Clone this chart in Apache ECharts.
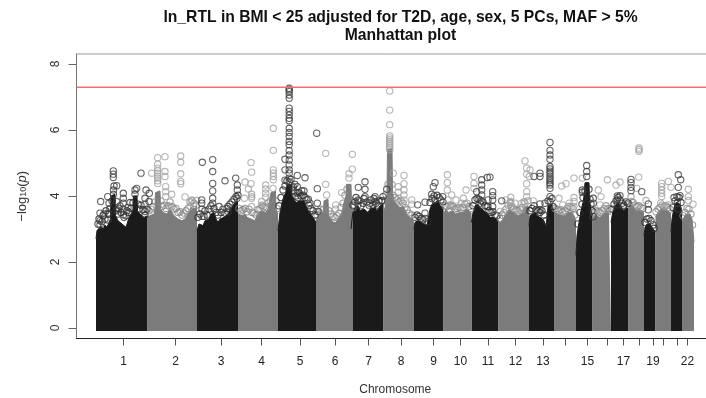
<!DOCTYPE html>
<html>
<head>
<meta charset="utf-8">
<script src="https://cdn.jsdelivr.net/npm/echarts@6/dist/echarts.min.js"></script>
<style>html,body{margin:0;padding:0;background:#fff}</style>
</head>
<body>
<div id="main" style="width:706px;height:398px;"></div>
<script type="text/javascript">
var chromTicks = [123.5,175.5,221,261.5,300,335,368.5,401,433.5,460.5,488,515.5,543,565.5,587.5,607.5,623.5,639.5,653,663.5,677,687.5];
var chromLabels = ['1','2','3','4','5','6','7','8','9','10','11','12','13','','15','','17','','19','','','22'];
var yTicks = [0,2,4,6,8];
var genomeWide = 7.29;

// top of the solid mass, odd and even chromosomes, '-' breaks between chromosomes
var skylineDark = [
	[96,2.7],[97,2.95],[99,3.0],[101,3.08],[103,2.98],[105,3.12],[107,3.05],[109,3.2],[110.5,3.3],[111,4.0],[115,4.05],[115.5,3.4],[118,3.25],[120,3.3],[122,3.15],[124,3.2],[126,3.05],[128,3.25],[130,3.4],[132,3.5],[133,3.6],[133.5,4.0],[137,4.0],[137.5,3.55],[140,3.45],[142,3.5],[144,3.35],[147.5,3.4],[147.5,'-'],
	[197,2.95],[199,3.15],[201,3.2],[203,3.1],[205,3.25],[207,3.2],[209,3.3],[211,3.45],[214,3.5],[216,3.3],[218,3.2],[220,3.3],[222,3.25],[224,3.35],[226,3.3],[228,3.45],[230,3.55],[232,3.6],[234,3.75],[236,3.8],[238,3.85],[238,'-'],
	[278,2.95],[280,3.5],[282,3.8],[284,4.0],[286,4.1],[287,4.35],[291.5,4.35],[292,4.0],[294,3.95],[296,3.8],[298,3.75],[300,3.85],[302,3.8],[304,3.85],[306,3.7],[308,3.55],[310,3.5],[312,3.4],[314,3.35],[316,3.2],[316,'-'],
	[351,3.0],[353,3.55],[355,3.65],[358,3.7],[360,3.55],[362,3.5],[364,3.6],[366,3.65],[368,3.5],[370,3.6],[372,3.55],[375,3.65],[377,3.55],[380,3.7],[383.5,3.75],[383.5,'-'],
	[414,3.0],[415,3.2],[418,3.25],[421,3.2],[424,3.15],[427,3.1],[429,3.05],[430,3.6],[432,3.75],[435,3.8],[438,3.85],[440,3.7],[443.5,3.65],[443.5,'-'],
	[471.5,3.2],[473,3.5],[475,3.7],[478,3.75],[480,3.65],[482,3.7],[484,3.55],[486,3.5],[488,3.45],[490,3.35],[492,3.3],[494,3.35],[498.5,3.25],[498.5,'-'],
	[529,3.1],[530,3.4],[532,3.45],[535,3.5],[537,3.4],[540,3.35],[542,3.4],[544,3.25],[546,3.05],[547.5,3.5],[548,3.7],[552,3.75],[554,3.5],[554,'-'],
	[576,2.2],[577,2.8],[579,3.2],[581,3.55],[583,3.8],[584,4.0],[585,4.4],[589,4.4],[589.5,3.85],[591,3.6],[592.5,3.4],[592.5,'-'],
	[611,3.2],[613,3.55],[615,3.7],[618,3.8],[620,3.7],[622,3.65],[624,3.55],[626,3.65],[628.5,3.6],[628.5,'-'],
	[644,2.8],[645,3.05],[647,3.15],[650,3.15],[652,3.05],[655.5,2.9],[655.5,'-'],
	[671,2.9],[672,3.3],[674,3.65],[676,3.8],[678,3.85],[680,3.75],[682,3.5]
];
var skylineGray = [
	[147.5,3.35],[150,3.4],[152,3.35],[154,3.45],[155,3.6],[155.5,4.1],[160,4.15],[160.5,3.6],[163,3.5],[165,3.55],[167,3.45],[170,3.6],[172,3.5],[174,3.4],[176,3.45],[178,3.3],[180,3.35],[182,3.25],[185,3.3],[187,3.4],[189,3.5],[191,3.65],[193,3.7],[195,3.6],[197,3.7],[197,'-'],
	[238,3.45],[240,3.4],[242,3.4],[245,3.45],[247,3.35],[249,3.4],[251,3.3],[253,3.35],[255,3.25],[257,3.4],[259,3.45],[261,3.55],[263,3.5],[266,3.5],[268,3.6],[270,3.65],[271,4.1],[275.5,4.15],[276,3.6],[278,3.45],[278,'-'],
	[316,3.25],[318,3.35],[320,3.45],[322,3.4],[323.5,3.5],[324,3.85],[328,3.9],[328.5,3.4],[331,3.3],[333,3.2],[336,3.2],[338,3.3],[340,3.35],[342,3.5],[344,3.8],[346,4.0],[346.5,4.35],[351,4.35],[351.5,3.7],[353,3.5],[353,'-'],
	[383.5,3.5],[385,3.65],[387,4.0],[387.5,5.4],[392,5.45],[392.5,4.1],[394,3.85],[396,3.75],[398,3.7],[400,3.65],[402,3.7],[404,3.65],[406,3.5],[408,3.4],[411,3.3],[414,3.2],[414,'-'],
	[443.5,3.45],[446,3.6],[448,3.5],[450,3.55],[453,3.55],[455,3.45],[457,3.45],[460,3.5],[462,3.45],[464,3.5],[466,3.6],[469,3.55],[471.5,3.45],[471.5,'-'],
	[498.5,3.2],[501,3.2],[503,3.3],[505,3.4],[507,3.5],[509,3.6],[511,3.65],[513,3.5],[515,3.45],[518,3.4],[520,3.45],[523,3.5],[524,3.65],[528,3.7],[529,3.4],[529,'-'],
	[554,3.5],[556,3.45],[558,3.45],[560,3.4],[562,3.4],[565,3.4],[568,3.5],[570,3.55],[572,3.5],[574,3.4],[576,3.25],[576,'-'],
	[592.5,3.35],[596,3.4],[598,3.35],[600,3.35],[602,3.4],[604,3.45],[607,3.55],[609,3.45],[611,3.45],[611,'-'],
	[628.5,3.55],[630,3.8],[632,3.85],[634,3.65],[636,3.55],[638,3.5],[640,3.55],[642,3.5],[644,3.5],[644,'-'],
	[655.5,3.35],[657,3.45],[659,3.5],[661,3.6],[663,3.55],[665,3.55],[668,3.55],[671,3.45],[671,'-'],
	[682,3.25],[684,3.35],[686,3.45],[688,3.5],[690,3.45],[692,3.3],[694,2.6]
];

// separate circles above the mass
var pointsDark = [
	[113.3,4.76],[113.3,4.66],[113.3,4.56],[114,4.3],[113.5,4.18],[113.5,4.05],[141,4.69],[100.7,3.83],[100,3.48],[100,3.25],[100,3.12],
	[107.7,3.98],[109,3.78],[108,3.48],[108,3.27],[116.7,4.31],[116.7,3.83],[117,3.58],[123.3,4.08],[123.3,3.93],[123.3,3.78],[123.3,3.6],[123.3,3.43],
	[135,4.18],[135,4.05],[136.7,4.23],[146,4.18],[149.3,4.08],[145,3.93],[149,3.83],[145,3.53],[145,3.75],[130,3.8],[128,3.65],[104,3.45],[120,3.7],
	[202.3,5.02],[212.7,5.1],[212.7,4.74],[212.7,4.38],[212.7,4.15],[212.7,3.93],[212.7,3.78],[225,4.46],[235.7,4.54],[237.3,4.33],[237.3,4.18],[237,3.93],[219,3.68],[201.7,3.88],[201.7,3.78],[202,3.6],[202,3.38],[228,3.68],[228,3.53],
	[289.2,7.26],[289.2,7.21],[289.2,7.16],[289.2,7.06],[289.2,6.96],[289.2,6.66],[289.2,6.56],[289.2,6.45],[289.2,6.35],[289.2,6.28],[289.2,6.05],[289.2,5.92],[289.2,5.8],[289.2,5.65],[289.2,5.55],[289.2,5.37],[289.2,5.24],[289.2,5.09],[289.2,4.94],[289.2,4.79],[289.2,4.69],[289.2,4.54],[289.2,4.43],
	[285,5.11],[285,4.79],[297.3,4.62],[305,4.55],[285,4.48],[293.3,4.28],[297.3,4.28],[297.3,4.08],[301.7,4.16],[308.3,3.9],[310,3.78],[316.7,5.9],[317.3,4.22],[317.3,3.78],[318,3.53],
	[365,4.43],[358.3,4.26],[365,4.2],[375,3.98],[375,3.83],[381.7,3.86],[365,3.98],[370,3.78],[358,3.73],[358,3.88],[386.7,4.2],
	[417.7,3.73],[425,3.81],[425,3.48],[433.3,4.28],[435,4.4],[431.7,4.05],[435,3.88],[442.7,3.98],[425,3.32],
	[481.7,4.49],[487.3,4.56],[481.7,4.33],[481.7,4.18],[481.7,4.03],[476.7,4.13],[480,3.78],[488,3.88],[488,3.68],[490,4.57],[492.7,4.13],[492.7,4.01],[492.7,3.88],[492.7,3.68],[501.7,3.85],
	[534,4.59],[540,4.69],[540,4.59],[540,3.76],[540,3.58],[545,3.78],
	[550,5.62],[550,5.38],[550,5.24],[550,5.11],[550,4.89],[550,4.82],[550,4.75],[550,4.68],[550,4.6],[550,4.53],[550,4.46],[550,4.39],[550,4.33],[550,4.23],[550,3.98],[550,3.83],
	[586.7,4.92],[586.7,4.74],[586.7,4.59],[582.3,4.18],[582.3,4.11],[593.3,3.93],[593.3,3.78],[593,3.37],
	[617.3,4.0],[620,4.01],[617.3,3.88],[617.3,3.73],[623.3,3.68],[631,4.5],[631,4.4],[631,4.26],[631,4.16],[641.7,4.13],[648.3,3.76],[648.3,3.58],
	[678.3,4.64],[680.7,4.49],[678.3,4.26],[680,4.01],[674,3.95],[677.3,3.78],[678,3.6]
];
var pointsGray = [
	[157.7,5.16],[165,5.19],[180.7,5.21],[180.7,5.02],[157.7,4.96],[157.7,4.84],[157.7,4.76],[157.7,4.69],[157.7,4.6],[157.7,4.54],[157.7,4.46],[157.7,4.38],[151.7,4.69],[165,4.74],[165,4.59],[180.7,4.67],[180.7,4.44],[180.7,4.37],[165.7,4.28],[165.7,4.13],[165.7,3.98],[171.7,4.05],[185,3.97],[191.7,3.88],[196.7,3.86],[190,3.68],[170,3.68],
	[273.3,6.05],[273.3,5.38],[251,5.01],[251.7,4.72],[273.3,4.79],[273.3,4.69],[273.3,4.59],[273.3,4.49],[245,4.42],[251,4.37],[248.3,4.21],[251.7,4.05],[251.7,3.98],[251.7,3.93],[265.7,4.33],[265.7,4.21],[265.7,4.08],[265.7,3.96],[244.3,3.93],[261.7,3.83],[261.7,3.68],[251.7,3.68],[273,4.23],
	[325.7,5.29],[325.7,4.35],[352.3,5.26],[352.3,4.81],[349,4.67],[349,4.54],[326.7,4.03],[341.7,4.1],[335.7,3.73],[335.7,3.6],
	[389.7,7.18],[389.7,6.6],[389.7,6.16],[389.7,5.82],[389.7,5.76],[389.7,5.7],[389.7,5.64],[389.7,5.58],[389.7,5.52],[389.7,5.46],[389.7,5.4],
	[404,4.62],[393.3,4.69],[404,4.37],[398.3,4.28],[404,4.18],[398.3,4.11],[404,4.03],[398.3,3.93],[404,3.88],[411.7,3.88],[411.7,3.75],
	[447.3,4.64],[447.3,4.4],[447.3,4.18],[451.7,4.03],[456,3.88],[463.3,3.93],[466,4.18],[448,3.88],[461.7,3.78],[450.7,3.73],
	[474,4.59],[474,4.38],[474,4.23],[500,3.53],[506,3.88],[510.7,3.96],[510.7,3.83],[510.7,3.68],[515,3.78],[521.7,3.78],[521.7,3.58],
	[525,5.06],[526.7,4.84],[530,4.79],[526.7,4.66],[529.3,4.59],[526.7,4.37],[526.7,4.13],[526.7,3.98],[525,3.78],[533.3,3.85],
	[559,3.93],[562.7,3.73],[566,4.37],[561.7,4.3],[574,4.54],[569.3,3.78],[574,3.95],[574,3.83],[574,3.68],[582.3,4.54],[598.3,4.18],[601,3.98],[607.3,4.49],[600,3.73],[607.3,3.6],
	[616,4.33],[620,4.42],[639,5.45],[639,5.4],[639,5.35],[638.7,4.57],[636.7,4.23],[631.7,3.83],[646,3.86],
	[661.7,4.38],[661.7,4.28],[661.7,4.18],[661.7,4.08],[661.7,3.98],[668.3,4.44],[671,4.26],[660.7,3.78],[668.3,3.73],[688.3,4.2],[688.3,3.98],[688.3,3.86],[693,3.75]
];

// the crowded circles along the top of the mass
var fringeDark = [
	[98,3.15],[99,3.3],[102,3.22],[103,3.4],[105,3.3],[106,3.55],[109,3.45],[110,3.62],[112,3.85],[116,3.55],[118,3.45],[119,3.62],[121,3.5],[124,3.35],[126,3.4],[127,3.55],[129,3.5],[131,3.62],[133,3.8],[138,3.75],[139,3.6],[141,3.72],[143,3.58],[145,3.42],[147,3.6],
	[198,3.35],[200,3.45],[204,3.38],[205,3.55],[207,3.42],[209,3.6],[211,3.7],[214,3.62],[216,3.5],[218,3.42],[221,3.5],[223,3.6],[225,3.48],[227,3.62],[230,3.75],[232,3.82],[234,3.9],[236,3.98],[238,4.02],
	[279,3.7],[281,3.95],[283,4.18],[285,4.3],[287,4.45],[291,4.5],[292,4.25],[294,4.15],[295,4.35],[296,4.0],[298,3.95],[299,4.1],[301,4.0],[303,4.02],[304,4.15],[305,3.95],[307,3.88],[309,3.72],[311,3.62],[313,3.55],[315,3.42],
	[353,3.72],[355,3.82],[356,3.95],[359,3.85],[361,3.7],[363,3.78],[364,3.92],[367,3.82],[369,3.72],[371,3.88],[373,3.72],[374,3.92],[376,3.78],[378,3.72],[379,3.85],[382,3.85],[383,3.98],
	[415,3.35],[417,3.42],[419,3.38],[421,3.32],[423,3.28],[428,3.22],[430,3.8],[432,3.92],[434,4.0],[437,4.02],[439,3.95],[441,3.88],[443,3.82],
	[473,3.7],[475,3.88],[477,3.92],[479,3.9],[481,3.85],[483,3.82],[485,3.7],[487,3.68],[489,3.55],[491,3.5],[493,3.52],[495,3.42],[497,3.4],
	[530,3.55],[532,3.62],[534,3.7],[536,3.58],[538,3.55],[540,3.5],[542,3.55],[544,3.42],[546,3.25],[548,3.85],[552,3.92],[553,3.68],
	[578,3.15],[580,3.5],[582,3.75],[583,3.95],[585,4.15],[589,4.2],[590,3.9],[591,3.75],[592,3.55],
	[612,3.6],[614,3.75],[616,3.85],[618,3.95],[620,3.88],[622,3.78],[624,3.72],[626,3.82],[628,3.78],
	[645,3.2],[647,3.3],[649,3.32],[651,3.25],[653,3.12],[654,3.02],
	[673,3.65],[675,3.85],[677,3.98],[679,3.95],[681,3.8]
];
var fringeGray = [
	[149,3.55],[151,3.6],[153,3.68],[155,3.82],[161,3.85],[162,3.68],[164,3.72],[166,3.62],[168,3.7],[170,3.82],[172,3.68],[174,3.6],[176,3.62],[178,3.5],[180,3.52],[182,3.42],[184,3.48],[186,3.55],[188,3.62],[190,3.82],[192,3.85],[194,3.78],[196,3.72],
	[239,3.62],[241,3.55],[243,3.58],[245,3.62],[247,3.52],[249,3.6],[252,3.5],[254,3.48],[256,3.42],[258,3.58],[260,3.62],[262,3.72],[264,3.68],[266,3.65],[268,3.78],[270,3.85],[276,3.85],[277,3.62],
	[317,3.42],[319,3.52],[321,3.6],[323,3.58],[329,3.55],[331,3.45],[333,3.38],[335,3.35],[337,3.4],[339,3.48],[341,3.65],[343,3.78],[345,4.02],[347,4.2],[352,3.85],[353,3.65],
	[385,3.85],[386,4.05],[388,4.35],[392,4.35],[393,4.02],[395,3.95],[397,3.88],[399,3.82],[401,3.85],[403,3.78],[405,3.65],[407,3.58],[409,3.48],[412,3.42],
	[445,3.7],[447,3.68],[449,3.72],[451,3.7],[453,3.68],[455,3.6],[457,3.62],[459,3.65],[461,3.6],[463,3.65],[465,3.75],[467,3.78],[469,3.68],[471,3.62],
	[500,3.32],[502,3.42],[504,3.5],[506,3.6],[508,3.72],[510,3.8],[512,3.68],[514,3.6],[516,3.58],[518,3.55],[520,3.6],[522,3.65],[524,3.82],[528,3.85],
	[555,3.62],[557,3.6],[559,3.55],[561,3.58],[563,3.52],[565,3.55],[567,3.62],[569,3.68],[571,3.65],[573,3.62],[575,3.42],
	[594,3.5],[596,3.55],[598,3.52],[600,3.5],[602,3.55],[604,3.62],[606,3.7],[608,3.62],[610,3.6],
	[629,3.75],[631,3.98],[633,3.8],[635,3.72],[637,3.68],[639,3.7],[641,3.65],[643,3.62],
	[656,3.52],[658,3.6],[660,3.65],[662,3.72],[664,3.68],[666,3.7],[668,3.65],[670,3.6],
	[683,3.4],[685,3.5],[687,3.62],[689,3.6],[691,3.45],[692.5,3.12]
];

var chart = echarts.init(document.getElementById('main'), null, { renderer: 'canvas' });
var fontName = '"Liberation Sans", Arial, sans-serif';

function massSeries(data, color) {
	return {
		type: 'line',
		data: data,
		showSymbol: false,
		silent: true,
		connectNulls: false,
		lineStyle: { color: color, width: 1 },
		areaStyle: { color: color, opacity: 1, origin: -0.09 },
		z: 2
	};
}

function circleSeries(data, color) {
	return {
		type: 'scatter',
		data: data,
		symbol: 'circle',
		symbolSize: 6.3,
		silent: true,
		itemStyle: { color: 'rgba(0,0,0,0)', borderColor: color, borderWidth: 1.1 },
		z: 3
	};
}

chart.setOption({
	animation: false,
	backgroundColor: '#fff',
	title: {
		text: 'ln_RTL in BMI < 25 adjusted for T2D, age, sex, 5 PCs, MAF > 5%\nManhattan plot',
		left: 395.5,
		top: 4,
		textAlign: 'center',
		textStyle: { fontFamily: fontName, fontSize: 15.7, fontWeight: 'bold', color: '#111', lineHeight: 18 }
	},
	grid: { left: 76.5, right: -2, top: 54, bottom: 59.5, show: true, borderColor: '#999', borderWidth: 1, outerBoundsMode: 'none' },
	xAxis: {
		type: 'value',
		min: 76.5,
		max: 708,
		name: 'Chromosome',
		nameLocation: 'middle',
		nameGap: 45,
		nameTextStyle: { fontFamily: fontName, fontSize: 12, color: '#333', padding: [0, 0, 0, 6] },
		splitLine: { show: false },
		axisLine: { show: true, onZero: false, lineStyle: { color: '#222', width: 1 } },
		axisTick: { show: true, length: 7, customValues: chromTicks, lineStyle: { color: '#555' } },
		axisLabel: {
			show: true,
			margin: 17,
			fontFamily: fontName,
			fontSize: 12,
			color: '#222',
			customValues: chromTicks,
			formatter: function(v) {
				return chromLabels[chromTicks.indexOf(v)];
			}
		}
	},
	yAxis: {
		type: 'value',
		min: -0.32,
		max: 8.3,
		name: '{t|\u2212log}{s|10}{t|(}{i|p}{t|)}',
		nameLocation: 'middle',
		nameGap: 48,
		nameTextStyle: {
			rich: {
				t: { fontFamily: fontName, fontSize: 13, color: '#333' },
				s: { fontFamily: fontName, fontSize: 9, color: '#333', verticalAlign: 'bottom' },
				i: { fontFamily: fontName, fontSize: 13, fontStyle: 'italic', color: '#333' }
			}
		},
		splitLine: { show: false },
		axisLine: { show: true, onZero: false, lineStyle: { color: '#777', width: 1 } },
		axisTick: { show: true, length: 8, customValues: yTicks, lineStyle: { color: '#666' } },
		axisLabel: {
			show: true,
			rotate: 90,
			margin: 15,
			fontFamily: fontName,
			fontSize: 12,
			color: '#333',
			customValues: yTicks
		}
	},
	series: [
		massSeries(skylineDark, '#1a1a1a'),
		massSeries(skylineGray, '#7b7b7b'),
		circleSeries(fringeGray, '#868686'),
		circleSeries(fringeDark, '#2a2a2a'),
		circleSeries(pointsGray, '#a2a2a2'),
		circleSeries(pointsDark, '#3c3c3c'),
		{
			type: 'line',
			data: [[76.5, genomeWide], [708, genomeWide]],
			showSymbol: false,
			silent: true,
			lineStyle: { color: '#f07070', width: 1.5 },
			z: 4
		}
	]
});
</script>
</body>
</html>
